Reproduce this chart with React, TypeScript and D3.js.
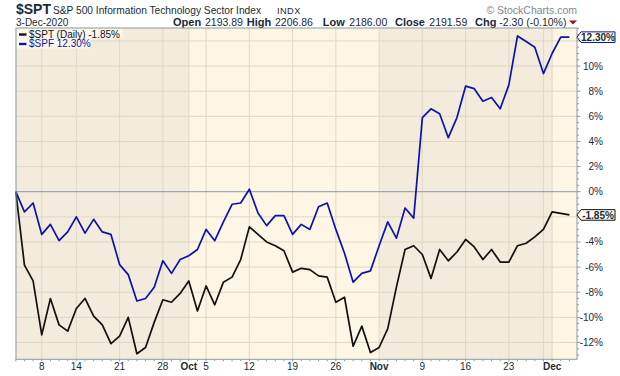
import React from "react";
import * as d3 from "d3";

// ---------- data ----------
const dates = [
  "2020-09-02", "2020-09-03", "2020-09-04",
  "2020-09-08", "2020-09-09", "2020-09-10", "2020-09-11",
  "2020-09-14", "2020-09-15", "2020-09-16", "2020-09-17", "2020-09-18",
  "2020-09-21", "2020-09-22", "2020-09-23", "2020-09-24", "2020-09-25",
  "2020-09-28", "2020-09-29", "2020-09-30",
  "2020-10-01", "2020-10-02",
  "2020-10-05", "2020-10-06", "2020-10-07", "2020-10-08", "2020-10-09",
  "2020-10-12", "2020-10-13", "2020-10-14", "2020-10-15", "2020-10-16",
  "2020-10-19", "2020-10-20", "2020-10-21", "2020-10-22", "2020-10-23",
  "2020-10-26", "2020-10-27", "2020-10-28", "2020-10-29", "2020-10-30",
  "2020-11-02", "2020-11-03", "2020-11-04", "2020-11-05", "2020-11-06",
  "2020-11-09", "2020-11-10", "2020-11-11", "2020-11-12", "2020-11-13",
  "2020-11-16", "2020-11-17", "2020-11-18", "2020-11-19", "2020-11-20",
  "2020-11-23", "2020-11-24", "2020-11-25", "2020-11-27",
  "2020-11-30",
  "2020-12-01", "2020-12-02", "2020-12-03",
];

// $SPT (Daily) % change
const sptValues = [
  0, -5.84, -7.1,
  -11.4, -8.5, -10.6, -11.1,
  -9.3, -8.5, -9.9, -10.6, -12.1,
  -11.5, -10.0, -12.9, -12.4, -10.4,
  -8.6, -8.8, -8.1,
  -7.1, -9.5,
  -7.5, -9.0, -7.2, -6.8, -5.4,
  -2.8, -3.4, -4.0, -4.3, -4.7,
  -6.4, -6.1, -6.2, -6.7, -6.8,
  -8.8, -8.4, -12.3, -10.7, -12.8,
  -12.4, -10.9, -7.6, -4.6, -4.3,
  -5.0, -6.9, -4.6, -5.5, -4.8,
  -3.8, -4.4, -5.4, -4.6, -5.6,
  -5.6, -4.3, -4.1, -3.6,
  -3.0,
  -1.6, -1.72, -1.85,
];

// $SPF % change
const spfValues = [
  0, -1.6, -0.9,
  -3.4, -2.6, -3.9, -3.2,
  -2.0, -3.3, -2.2, -3.2, -3.4,
  -5.8, -6.6, -8.7, -8.5, -7.6,
  -5.5, -6.5, -5.4,
  -5.1, -4.6,
  -3.0, -3.9, -2.4, -1.0, -0.9,
  0.2, -1.7, -2.7, -1.9, -1.9,
  -3.4, -2.6, -3.0, -1.2, -0.9,
  -3.0, -4.9, -7.2, -6.5, -6.3,
  -4.3, -2.4, -3.7, -1.3, -2.1,
  5.9, 6.6, 6.2, 4.3, 5.9,
  8.4, 8.2, 7.2, 7.5, 6.6,
  8.5, 12.4, 11.95, 11.5,
  9.4,
  11.0, 12.3, 12.3,
];

const yTickValues = [-12, -10, -8, -6, -4, -2, 0, 2, 4, 6, 8, 10, 12];
const seriesNames = ["$SPT (Daily)", "$SPF"];
const seriesLast = ["-1.85%", "12.30%"];
const headerLabels = ["Open", "High", "Low", "Close", "Chg"];
const headerValues = ["2193.89", "2206.86", "2186.00", "2191.59", "-2.30 (-0.10%)"];

// ---------- layout / style ----------
const W = 620;
const H = 376;
const P = { left: 16, right: 577, top: 28, bottom: 359.3 };
const FONT = "'Liberation Sans', Arial, Helvetica, sans-serif";
const TXT = "#1b2a38";
const DARK_BG = "#f3ebdb";
const LIGHT_BG = "#fdf6e4";
const GRID = "#e0d8c6";
const AXIS = "#8c9aa3";
const BLUE = "#0c12b0";
const BLACK = "#111111";

export default function App() {
  const parse = d3.timeParse("%Y-%m-%d");
  const parsed = dates.map((d) => parse(d) as Date);

  const x = d3.scalePoint<string>().domain(dates).range([15.8, 569.4]);
  const y = d3.scaleLinear().domain([-13.34, 13.03]).range([P.bottom, P.top]);
  const xi = (i: number) => x(dates[i]) as number;

  // month segments
  const monthStarts: number[] = [0];
  for (let i = 1; i < dates.length; i++) {
    if (parsed[i].getMonth() !== parsed[i - 1].getMonth()) monthStarts.push(i);
  }
  const segments = monthStarts.map((s, k) => {
    const x0 = k === 0 ? P.left : xi(s);
    const x1 = k === monthStarts.length - 1 ? P.right : xi(monthStarts[k + 1]);
    return { x0, x1, dark: k % 2 === 0 };
  });

  // vertical grid + labels
  const vgrid: { i: number; month: boolean }[] = [];
  for (let i = 1; i < dates.length; i++) {
    const monthChange = parsed[i].getMonth() !== parsed[i - 1].getMonth();
    const weekChange =
      d3.timeMonday.floor(parsed[i]).getTime() !== d3.timeMonday.floor(parsed[i - 1]).getTime();
    if (monthChange || weekChange) vgrid.push({ i, month: monthChange });
  }
  const monthIdx = vgrid.filter((g) => g.month).map((g) => g.i);
  const xLabels = vgrid
    .filter((g) => g.month || !monthIdx.some((m) => m !== g.i && Math.abs(m - g.i) <= 1))
    .map((g) => ({
      i: g.i,
      bold: g.month,
      text: g.month ? d3.timeFormat("%b")(parsed[g.i]) : String(parsed[g.i].getDate()),
    }));

  const line = d3
    .line<number>()
    .x((_, i) => xi(i))
    .y((v) => y(v));

  const minorY = d3.range(-13, 13.01, 0.5);

  const series = [
    { name: seriesNames[0], values: sptValues, color: BLACK, last: seriesLast[0] },
    { name: seriesNames[1], values: spfValues, color: BLUE, last: seriesLast[1] },
  ];
  const tagYs = series.map((s) => y(s.values[s.values.length - 1]));
  const visibleYTicks = yTickValues.filter((v) => tagYs.every((ty) => Math.abs(ty - y(v)) > 9));

  const headerX = [173, 246.7, 322.7, 395, 475];
  const headerValX = [205, 275, 349.3, 429.3, 499.3];

  return (
    <svg
      width={W}
      height={H}
      viewBox={`0 0 ${W} ${H}`}
      style={{ position: "absolute", left: 0, top: 0, display: "block", background: "#fff" }}
      fontFamily={FONT}
    >
      <rect x={0} y={0} width={W} height={H} fill="#ffffff" />

      {/* header */}
      <text x={16} y={14} fontSize={14} fontWeight="bold" fill={TXT}>$SPT</text>
      <text x={53} y={13.5} fontSize={10.2} fill={TXT}>S&amp;P 500 Information Technology Sector Index</text>
      <text x={277} y={13.5} fontSize={9.3} letterSpacing={0.4} fill={TXT}>INDX</text>
      <text x={16} y={25.7} fontSize={10} fill={TXT}>3-Dec-2020</text>
      <text x={577} y={14} fontSize={10.5} fill="#7f8890" textAnchor="end">© StockCharts.com</text>
      {headerLabels.map((l, k) => (
        <g key={l}>
          <text x={headerX[k]} y={25.7} fontSize={11} fontWeight="bold" fill={TXT}>{l}</text>
          <text x={headerValX[k]} y={25.7} fontSize={10.5} fill={TXT}>{headerValues[k]}</text>
        </g>
      ))}
      <path d="M569,20.5 L577,20.5 L573,24.5 Z" fill="#9b0f2e" />

      {/* plot background */}
      {segments.map((s, k) => (
        <rect key={k} x={s.x0} y={P.top} width={s.x1 - s.x0} height={P.bottom - P.top} fill={s.dark ? DARK_BG : LIGHT_BG} />
      ))}

      {/* grid */}
      {yTickValues.filter((v) => v !== 0).map((v) => (
        <line key={v} x1={P.left} x2={P.right} y1={y(v)} y2={y(v)} stroke={GRID} strokeWidth={1} />
      ))}
      {vgrid.map((g) => (
        <line key={g.i} x1={xi(g.i)} x2={xi(g.i)} y1={P.top} y2={P.bottom} stroke={GRID} strokeWidth={1} />
      ))}
      <line x1={P.left} x2={P.right} y1={y(0)} y2={y(0)} stroke={AXIS} strokeWidth={1} />

      {/* legend */}
      <rect x={P.left + 0.5} y={P.top + 0.5} width={106} height={10} fill="#fcf8ee" />
      <rect x={P.left + 0.5} y={P.top + 10.5} width={74} height={10} fill="#fcf8ee" />
      {series.map((s, k) => (
        <g key={s.name}>
          <rect x={19} y={33.3 + k * 9.5} width={7.5} height={2.4} fill={s.color} />
          <text x={29} y={37.8 + k * 9.5} fontSize={10} fill={s.color}>
            {s.name} {s.last}
          </text>
        </g>
      ))}

      {/* lines */}
      {series.map((s) => (
        <path key={s.name} d={line(s.values) || ""} fill="none" stroke={s.color} strokeWidth={1.7} strokeLinejoin="round" />
      ))}

      {/* frame */}
      <rect x={P.left} y={P.top} width={P.right - P.left} height={P.bottom - P.top} fill="none" stroke={AXIS} strokeWidth={1} />

      {/* x axis ticks & labels */}
      {dates.map((d, i) => (
        <line key={d} x1={xi(i)} x2={xi(i)} y1={P.bottom} y2={P.bottom + 2} stroke={AXIS} strokeWidth={1} />
      ))}
      {xLabels.map((l) => (
        <text key={l.i} x={xi(l.i)} y={369.5} fontSize={10} fontWeight={l.bold ? "bold" : "normal"} fill={TXT} textAnchor="middle">
          {l.text}
        </text>
      ))}

      {/* right axis */}
      {minorY.map((v) => (
        <line key={v} x1={P.right} x2={P.right + (Number.isInteger(v / 2) ? 3.5 : 2)} y1={y(v)} y2={y(v)} stroke={AXIS} strokeWidth={1} />
      ))}
      {visibleYTicks.map((v) => (
        <text key={v} x={603} y={y(v) + 3.5} fontSize={10} fill={TXT} textAnchor="end">
          {v}%
        </text>
      ))}

      {/* last value tags */}
      {series.map((s, k) => {
        const cy = tagYs[k];
        const x0 = P.right;
        const x1 = 615;
        const h = 5.3;
        return (
          <g key={s.name}>
            <path
              d={`M${x0},${cy} L${x0 + 4},${cy - h} L${x1},${cy - h} L${x1},${cy + h} L${x0 + 4},${cy + h} Z`}
              fill="#fffdf2"
              stroke={s.color}
              strokeWidth={1}
            />
            <text x={(x0 + 4 + x1) / 2} y={cy + 3.6} fontSize={10} fontWeight="bold" fill={TXT} textAnchor="middle">
              {s.last}
            </text>
          </g>
        );
      })}
    </svg>
  );
}
